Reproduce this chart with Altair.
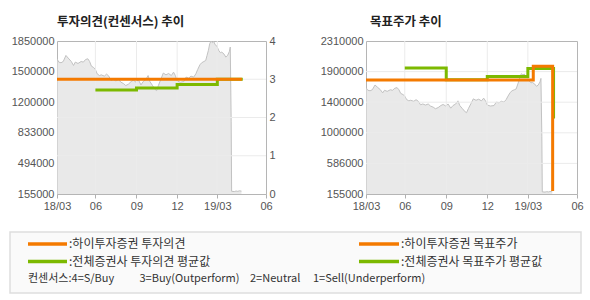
import altair as alt
import pandas as pd

# ---------------- data ----------------
price_dates = [
    "2018-03-07", "2018-03-11", "2018-03-16", "2018-03-21", "2018-03-27", "2018-04-01",
    "2018-04-08", "2018-04-13", "2018-04-17", "2018-04-23", "2018-04-30", "2018-05-05",
    "2018-05-10", "2018-05-15", "2018-05-19", "2018-05-23", "2018-05-28", "2018-06-01",
    "2018-06-05", "2018-06-10", "2018-06-14", "2018-06-21", "2018-06-26", "2018-07-01",
    "2018-07-06", "2018-07-11", "2018-07-17", "2018-07-23", "2018-07-28", "2018-08-03",
    "2018-08-08", "2018-08-14", "2018-08-20", "2018-08-25", "2018-08-31", "2018-09-05",
    "2018-09-11", "2018-09-16", "2018-09-22", "2018-09-27", "2018-10-01", "2018-10-07",
    "2018-10-13", "2018-10-16", "2018-10-20", "2018-10-26", "2018-10-31", "2018-11-06",
    "2018-11-12", "2018-11-18", "2018-11-23", "2018-11-27", "2018-12-01", "2018-12-08",
    "2018-12-16", "2018-12-21", "2018-12-27", "2019-01-01", "2019-01-07", "2019-01-12",
    "2019-01-16", "2019-01-21", "2019-01-25", "2019-01-30", "2019-02-03", "2019-02-06",
    "2019-02-09", "2019-02-12", "2019-02-15", "2019-02-18", "2019-02-21", "2019-02-24",
    "2019-02-28", "2019-03-04", "2019-03-08", "2019-03-11", "2019-03-16", "2019-03-20",
    "2019-03-24", "2019-03-28", "2019-03-30", "2019-04-01", "2019-04-02", "2019-04-08",
    "2019-04-12", "2019-04-16", "2019-04-19", "2019-04-24",
]
price_values = [
    1653000, 1616000, 1609000, 1623000, 1690000, 1661000,
    1623000, 1579000, 1616000, 1601000, 1623000, 1616000,
    1645000, 1653000, 1623000, 1572000, 1556000, 1534000,
    1486000, 1467000, 1475000, 1461000, 1483000, 1461000,
    1412000, 1423000, 1408000, 1423000, 1394000, 1378000,
    1356000, 1372000, 1401000, 1416000, 1394000, 1423000,
    1364000, 1401000, 1423000, 1467000, 1401000, 1356000,
    1312000, 1300000, 1356000, 1431000, 1495000, 1475000,
    1490000, 1467000, 1505000, 1467000, 1408000, 1394000,
    1401000, 1450000, 1439000, 1461000, 1450000, 1486000,
    1534000, 1586000, 1609000, 1623000, 1634000, 1690000,
    1746000, 1820000, 1850000, 1831000, 1845000, 1809000,
    1794000, 1746000, 1720000, 1727000, 1705000, 1672000,
    1690000, 1734000, 1783000, 962000, 185000, 182000,
    188000, 184000, 190000, 187000,
]

rating_dates = ["2018-03-07", "2019-04-25"]
rating_values = [3, 3]
cons_rating_dates = ["2018-06-01", "2018-09-01", "2018-12-01", "2019-03-01", "2019-04-27"]
cons_rating_values = [2.72, 2.77, 2.86, 3.0, 3.0]

tp_dates = ["2018-03-07", "2019-03-13", "2019-04-25"]
tp_values = [1760000, 1956000, 196000]
cons_tp_dates = ["2018-06-01", "2018-09-01", "2018-12-01", "2019-03-01", "2019-04-27"]
cons_tp_values = [1928000, 1765000, 1810000, 1924000, 1220000]

left_ticks = [155000, 494000, 833000, 1172000, 1511000, 1850000]
left_tick_labels = ["155000", "494000", "833000", "1200000", "1500000", "1850000"]
right_ticks = [155000, 586000, 1017000, 1448000, 1879000, 2310000]
right_tick_labels = ["155000", "586000", "1000000", "1400000", "1900000", "2310000"]
rating_ticks = [0, 1, 2, 3, 4]
x_tick_dates = ["2018-03-07", "2018-06-01", "2018-09-01", "2018-12-01", "2019-03-01", "2019-06-18"]
x_tick_labels = ["18/03", "06", "09", "12", "19/03", "06"]

title_left = "투자의견(컨센서스) 추이"
title_right = "목표주가 추이"
legend_left = [":하이투자증권 투자의견", ":전체증권사 투자의견 평균값"]
legend_right = [":하이투자증권 목표주가", ":전체증권사 목표주가 평균값"]
legend_note = ["컨센서스:4=S/Buy", "3=Buy(Outperform)", "2=Neutral", "1=Sell(Underperform)"]

# ---------------- styling ----------------
ORANGE = "#f47a00"
GREEN = "#7cb900"
AREA = "#e0e0e0"
AREA_LINE = "#c2c2c2"
GRID = "#ebebeb"
LABEL_FONT = "Liberation Sans"
KFONT = "Noto Sans CJK KR"
AXIS_EXT = 47


def dt(s):
    y, m, d = (int(p) for p in s.split("-"))
    return alt.DateTime(year=y, month=m, date=d, utc=True)


def num_label_expr(values, labels):
    expr = "''"
    for v, l in reversed(list(zip(values, labels))):
        expr = f"datum.value == {v} ? '{l}' : ({expr})"
    return expr


def date_label_expr(values, labels):
    expr = "''"
    for v, l in reversed(list(zip(values, labels))):
        expr = f"utcFormat(datum.value, '%Y-%m-%d') == '{v}' ? '{l}' : ({expr})"
    return expr


x_scale = alt.Scale(type="utc", domain=[dt(x_tick_dates[0]), dt(x_tick_dates[-1])])
x_axis = alt.Axis(
    values=[dt(s) for s in x_tick_dates],
    labelExpr=date_label_expr(x_tick_dates, x_tick_labels),
    title=None, grid=False, domain=False, ticks=True, tickSize=4, tickColor="#b0b0b0",
    labelPadding=2, labelFlush=False, labelOverlap=False,
    minExtent=18, maxExtent=18,
)


def X(field="date"):
    return alt.X(f"{field}:T", scale=x_scale, axis=x_axis)


price_df = pd.DataFrame({"date": price_dates, "price": price_values})
rating_df = pd.DataFrame({"date": rating_dates, "v": rating_values})
cons_rating_df = pd.DataFrame({"date": cons_rating_dates, "v": cons_rating_values})
tp_df = pd.DataFrame({"date": tp_dates, "v": tp_values})
cons_tp_df = pd.DataFrame({"date": cons_tp_dates, "v": cons_tp_values})
vgrid_df = pd.DataFrame({"date": x_tick_dates[1:-1]})


def price_layer(ticks, labels):
    return alt.Chart(price_df).mark_area(
        color=AREA, clip=True, line={"color": AREA_LINE, "strokeWidth": 1}
    ).encode(
        x=X(),
        y=alt.Y("price:Q", scale=alt.Scale(domain=[ticks[0], ticks[-1]], zero=False, nice=False),
                axis=alt.Axis(values=ticks, labelExpr=num_label_expr(ticks, labels), title=None,
                              grid=False, domain=False, ticks=False, labelPadding=3,
                              minExtent=AXIS_EXT, maxExtent=AXIS_EXT)),
    )


vgrid = alt.Chart(vgrid_df).mark_rule(color=GRID, strokeWidth=1).encode(x=X())

# ---------------- left chart ----------------
rating_scale = alt.Scale(domain=[0, 4], nice=False, zero=True)
hgrid_left = alt.Chart(pd.DataFrame({"v": rating_ticks[1:-1]})).mark_rule(
    color=GRID, strokeWidth=1
).encode(y=alt.Y("v:Q", scale=rating_scale, axis=None))
green_left = alt.Chart(cons_rating_df).mark_line(
    color=GREEN, strokeWidth=3, interpolate="step-after"
).encode(x=X(), y=alt.Y("v:Q", scale=rating_scale, axis=None))
orange_left = alt.Chart(rating_df).mark_line(
    color=ORANGE, strokeWidth=3, interpolate="step-after"
).encode(
    x=X(),
    y=alt.Y("v:Q", scale=rating_scale,
            axis=alt.Axis(orient="right", values=rating_ticks, format="d", title=None, grid=False,
                          domain=False, ticks=False, labelPadding=3, minExtent=12, maxExtent=12)),
)

left = alt.layer(
    price_layer(left_ticks, left_tick_labels), vgrid, hgrid_left, green_left, orange_left
).resolve_scale(y="independent").properties(
    width=209, height=153,
    title=alt.TitleParams(title_left, anchor="start", frame="group"),
)

# ---------------- right chart ----------------
tp_scale = alt.Scale(domain=[right_ticks[0], right_ticks[-1]], zero=False, nice=False)
hgrid_right = alt.Chart(pd.DataFrame({"v": right_ticks[1:-1]})).mark_rule(
    color=GRID, strokeWidth=1
).encode(y=alt.Y("v:Q", scale=tp_scale, axis=None))
green_right = alt.Chart(cons_tp_df).mark_line(
    color=GREEN, strokeWidth=3, interpolate="step-after"
).encode(x=X(), y=alt.Y("v:Q", scale=tp_scale, axis=None))
orange_right = alt.Chart(tp_df).mark_line(
    color=ORANGE, strokeWidth=3, interpolate="step-after"
).encode(x=X(), y=alt.Y("v:Q", scale=tp_scale, axis=None))

right = alt.layer(
    price_layer(right_ticks, right_tick_labels), vgrid, hgrid_right, green_right, orange_right
).resolve_scale(y="independent").properties(
    width=211, height=153,
    title=alt.TitleParams(title_right, anchor="start", frame="group", dx=4),
)

# ---------------- legend panel ----------------
# the panel's view origin lines up with the plot origin; the box reaches AXIS_EXT to the left
one = pd.DataFrame({"k": [0]})
OX = -AXIS_EXT
legend_layers = [
    alt.Chart(one).mark_rect(fill="#fafafa", stroke="#dedede", strokeWidth=1.5).encode(
        x=alt.value(OX), x2=alt.value(OX + 571), y=alt.value(0), y2=alt.value(61))
]
row_y = [12, 29.5, 47]
line_colors = [ORANGE, GREEN]
for i in range(2):
    legend_layers.append(alt.Chart(one).mark_rule(color=line_colors[i], strokeWidth=3.5).encode(
        x=alt.value(OX + 18), x2=alt.value(OX + 57), y=alt.value(row_y[i])))
    legend_layers.append(alt.Chart(one).mark_rule(color=line_colors[i], strokeWidth=3.5).encode(
        x=alt.value(OX + 349), x2=alt.value(OX + 389), y=alt.value(row_y[i])))
    legend_layers.append(alt.Chart(one).mark_text(
        align="left", baseline="middle", font=KFONT, fontSize=12, color="#333333"
    ).encode(x=alt.value(OX + 59), y=alt.value(row_y[i]), text=alt.value(legend_left[i])))
    legend_layers.append(alt.Chart(one).mark_text(
        align="left", baseline="middle", font=KFONT, fontSize=12, color="#333333"
    ).encode(x=alt.value(OX + 391), y=alt.value(row_y[i]), text=alt.value(legend_right[i])))
note_x = [18, 129.5, 240, 303]
for i, t in enumerate(legend_note):
    legend_layers.append(alt.Chart(one).mark_text(
        align="left", baseline="middle", font=KFONT, fontSize=11, color="#333333"
    ).encode(x=alt.value(OX + note_x[i]), y=alt.value(row_y[2]), text=alt.value(t)))

legend = alt.layer(*legend_layers).properties(
    width=571 + OX, height=61,
    view=alt.ViewBackground(fill="transparent", stroke="transparent"),
)

top_row = alt.hconcat(left, right, spacing=39)

chart = alt.vconcat(
    top_row, legend, spacing=17,
).properties(
    padding={"left": 8, "top": 15, "right": 4, "bottom": 4},
    background="#ffffff",
).configure_view(
    stroke="#b5b5b5", strokeWidth=1,
).configure_axis(
    labelFont=LABEL_FONT, labelFontSize=11, labelColor="#555555",
).configure_title(
    font=KFONT, fontSize=12.5, fontWeight="bold", color="#222222", offset=7,
)

chart.save("out.html", embed_options={"renderer": "svg", "actions": False})
